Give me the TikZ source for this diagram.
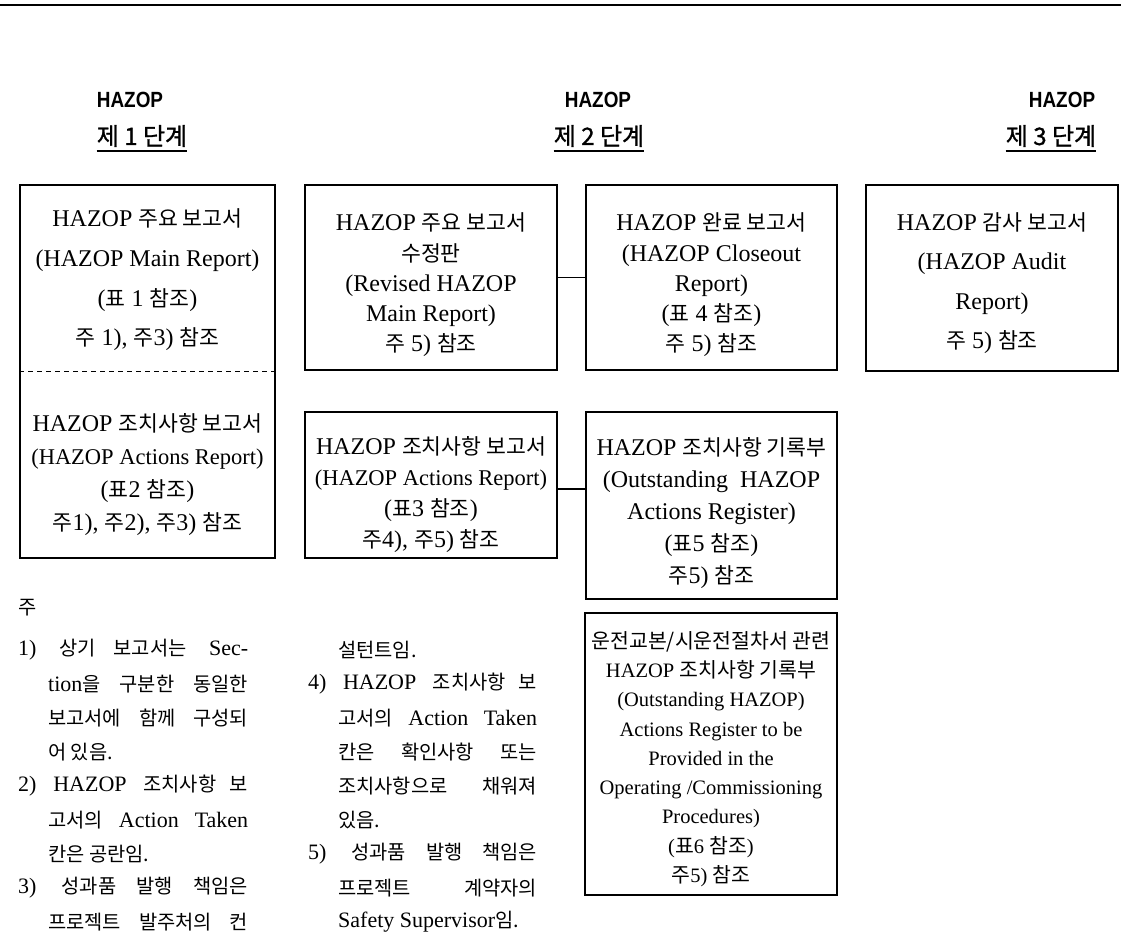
\documentclass[tikz,border=0pt]{standalone}
\usepackage{fontspec}
\setmainfont{Liberation Serif}
\setsansfont{Liberation Sans}
\newfontfamily\kr[Scale=0.9]{Noto Sans CJK KR}
\newfontfamily\krw[Scale=1.0]{Noto Sans CJK KR}
\newfontfamily\krh[FakeBold=1.2]{Noto Sans CJK KR}
\newfontfamily\hsans[FakeStretch=0.86]{Liberation Sans Bold}
\newcommand\K[1]{{\kr #1}}
\newcommand\KW[1]{{\krw #1}}
\newcommand\SM[1]{{\fontsize{22.5}{33}\selectfont #1}}
\begin{document}
\begin{tikzpicture}[x=1pt,y=-1pt,
  rbox/.style={draw, line width=1.1pt, inner sep=0pt},
  txt/.style={inner sep=0pt, align=center},
  hdrA/.style={inner sep=0pt, font=\hsans\fontsize{22}{22}\selectfont},
  hdrB/.style={inner sep=0pt, font=\krh\fontsize{24}{24}\selectfont},
  uline/.style={line width=1.5pt},
  conn/.style={line width=1.2pt},
  dline/.style={line width=1pt, dash pattern=on 5pt off 4pt},
  note/.style={anchor=west, inner sep=0pt, font=\fontsize{22}{30}\selectfont}]
\useasboundingbox (0,0) rectangle (1121,944);
\draw[line width=2.5pt] (0,5) -- (1121,5);

% headers
\node[hdrA] (h1a) at (130,100) {HAZOP};
\node[hdrB] (h1b) at (142,136) {제 1 단계};
\node[hdrA] (h2a) at (598,100) {HAZOP};
\node[hdrB] (h2b) at (599,136) {제 2 단계};
\node[hdrA] (h3a) at (1062,100) {HAZOP};
\node[hdrB] (h3b) at (1051,136) {제 3 단계};
\foreach \h in {h1b,h2b,h3b}
  \draw[uline] ([yshift=-4pt]\h.south west) -- ([yshift=-4pt]\h.south east);

% box 1 (two sections)
\node[rbox, minimum width=255pt, minimum height=373pt] (b1) at (147.5,371.5) {};
\draw[dline] (b1.west) -- (b1.east);
\node[txt, font=\fontsize{24}{39.7}\selectfont] (t1a) at (147.5,280)
  {HAZOP \K{주요 보고서}\\(HAZOP Main Report)\\(\K{표} 1 \K{참조})\\\K{주} 1), \K{주}3) \K{참조}};
\node[txt, font=\fontsize{24}{33}\selectfont] (t1b) at (147.5,475)
  {HAZOP \K{조치사항 보고서}\\\SM{(HAZOP Actions Report)}\\(\K{표}2 \K{참조})\\\K{주}1), \K{주}2), \K{주}3) \K{참조}};

% stage 2 & 3 boxes
\node[rbox, minimum width=252pt, minimum height=185pt] (b2) at (431,277.5) {};
\node[txt, font=\fontsize{24}{30.3}\selectfont] (t2) at (431,285)
  {HAZOP \K{주요 보고서}\\\K{수정판}\\(Revised HAZOP\\Main Report)\\\K{주} 5) \K{참조}};
\node[rbox, minimum width=251pt, minimum height=185pt] (b3) at (711.5,277.5) {};
\node[txt, font=\fontsize{24}{30.3}\selectfont] (t3) at (711.5,285)
  {HAZOP \K{완료 보고서}\\(HAZOP Closeout\\Report)\\(\K{표} 4 \K{참조})\\\K{주} 5) \K{참조}};
\node[rbox, minimum width=252pt, minimum height=186pt] (b4) at (992,278) {};
\node[txt, font=\fontsize{24}{39.3}\selectfont] (t4) at (992,283)
  {HAZOP \K{감사 보고서}\\(HAZOP Audit\\Report)\\\K{주} 5) \K{참조}};
\node[rbox, minimum width=252pt, minimum height=146pt] (b5) at (431,485) {};
\node[txt, font=\fontsize{24}{31}\selectfont] (t5) at (431,495)
  {HAZOP \K{조치사항 보고서}\\\SM{(HAZOP Actions Report)}\\(\K{표}3 \K{참조})\\\K{주}4), \K{주}5) \K{참조}};
\node[rbox, minimum width=251pt, minimum height=187pt] (b6) at (711.5,505.5) {};
\node[txt, font=\fontsize{24}{32}\selectfont] (t6) at (711.5,513)
  {HAZOP \K{조치사항 기록부}\\(Outstanding\ \ HAZOP\\Actions Register)\\(\K{표}5 \K{참조})\\\K{주}5) \K{참조}};
\node[rbox, minimum width=252pt, minimum height=282pt] (b7) at (711,754) {};
\node[txt, font=\fontsize{20.5}{29.3}\selectfont] (t7) at (711,759)
  {\KW{운전교본/시운전절차서 관련}\\HAZOP \KW{조치사항 기록부}\\(Outstanding HAZOP)\\Actions Register to be\\Provided in the\\Operating /Commissioning\\Procedures)\\(\KW{표}6 \KW{참조})\\\KW{주}5) \KW{참조}};

% connectors
\draw[conn] (b2) -- (b3);
\draw[conn] ([yshift=-4pt]b5.east) -- ([yshift=-4pt]b5.east -| b6.west);

% notes column 1
\node[note] (n0) at (18,608) {\K{주}};
\node[note] (n1) at (18,650) {\makebox[230pt][s]{1) \K{상기 보고서는} Sec-}};
\node[note] (n2) at (48,684) {\makebox[200pt][s]{tion\K{을 구분한 동일한}}};
\node[note] (n3) at (48,718) {\makebox[200pt][s]{\K{보고서에 함께 구성되}}};
\node[note] (n4) at (48,752) {\K{어 있음.}};
\node[note] (n5) at (18,786) {\makebox[230pt][s]{2) HAZOP \K{조치사항 보}}};
\node[note] (n6) at (48,820) {\makebox[200pt][s]{\K{고서의} Action Taken}};
\node[note] (n7) at (48,854) {\K{칸은 공란임.}};
\node[note] (n8) at (18,888) {\makebox[230pt][s]{3) \K{성과품 발행 책임은}}};
\node[note] (n9) at (48,922) {\makebox[200pt][s]{\K{프로젝트 발주처의 컨}}};

% notes column 2
\node[note] (m1) at (338,650) {\K{설턴트임.}};
\node[note] (m2) at (308,684) {\makebox[229pt][s]{4) HAZOP \K{조치사항 보}}};
\node[note] (m3) at (338,718) {\makebox[199pt][s]{\K{고서의} Action Taken}};
\node[note] (m4) at (338,752) {\makebox[199pt][s]{\K{칸은 확인사항 또는}}};
\node[note] (m5) at (338,786) {\makebox[199pt][s]{\K{조치사항으로 채워져}}};
\node[note] (m6) at (338,820) {\K{있음.}};
\node[note] (m7) at (308,854) {\makebox[229pt][s]{5) \K{성과품 발행 책임은}}};
\node[note] (m8) at (338,888) {\makebox[199pt][s]{\K{프로젝트 계약자의}}};
\node[note] (m9) at (338,922) {Safety Supervisor\K{임.}};
\end{tikzpicture}
\end{document}
